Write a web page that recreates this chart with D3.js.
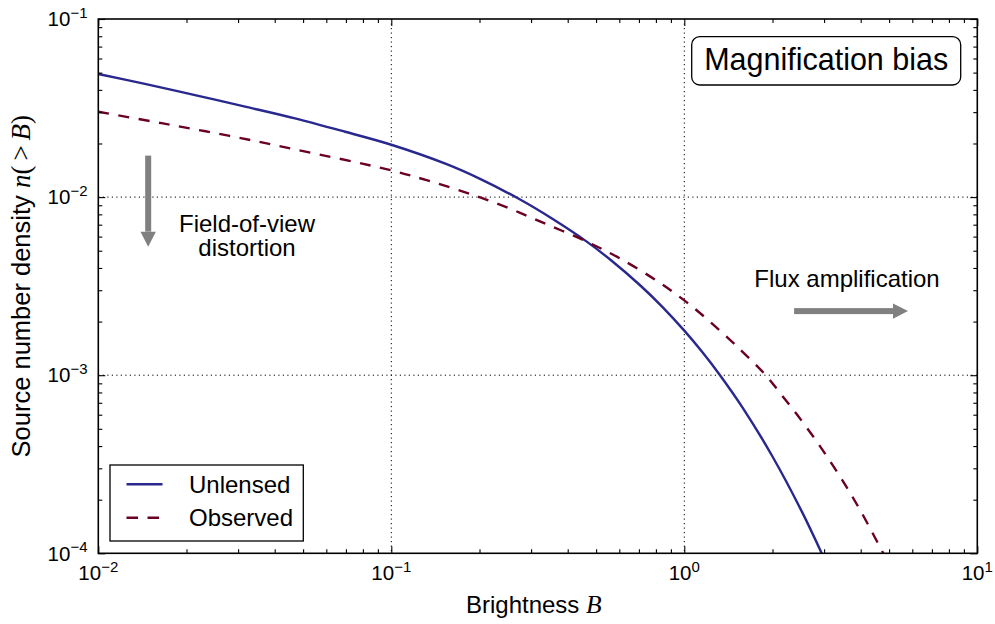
<!DOCTYPE html>
<html><head><meta charset="utf-8">
<script src="https://cdn.jsdelivr.net/npm/d3@7"></script>
<style>
body{margin:0;background:#fff}
svg{display:block}
text{font-family:"Liberation Sans",Arial,Helvetica,sans-serif;fill:#000}
</style>
</head><body>
<svg id="chart" width="995" height="624"></svg>
<script>
// ---- data ----
const unlensedB = [0.01, 0.01442, 0.02138, 0.0317, 0.0469, 0.0695, 0.1, 0.1545, 0.2, 0.2742, 0.3556, 0.4645, 0.5623, 0.7079, 0.8414, 1.0, 1.148, 1.324, 1.585, 1.995, 2.512, 2.944];
const unlensedN = [0.04909, 0.04325, 0.03741, 0.03221, 0.02767, 0.02328, 0.01968, 0.01531, 0.0127, 0.00972, 0.007534, 0.005623, 0.00442, 0.003189, 0.00242, 0.001779, 0.001358, 0.001, 0.0006534, 0.0003519, 0.000173, 0.0001];
const observedB = [0.01, 0.01644, 0.0278, 0.0469, 0.1, 0.1337, 0.1832, 0.2506, 0.3404, 0.4645, 0.604, 0.8054, 1.0, 1.2246, 1.549, 1.884, 2.123, 2.421, 2.864, 3.404, 3.981, 4.775];
const observedN = [0.03013, 0.026, 0.02213, 0.01854, 0.01413, 0.01236, 0.0105, 0.00869, 0.00702, 0.005623, 0.00452, 0.00339, 0.00263, 0.001995, 0.001396, 0.001012, 0.000794, 0.000603, 0.000413, 0.000269, 0.000175, 0.0001];
const seriesNames = ["Unlensed", "Observed"];
const xTickValues = [0.01, 0.1, 1, 10];
const xTickExponents = ["\u22122", "\u22121", "0", "1"];
const yTickValues = [1e-4, 1e-3, 1e-2, 1e-1];
const yTickExponents = ["\u22124", "\u22123", "\u22122", "\u22121"];
const xLabel = "Brightness ";
const yLabel = "Source number density ";
const titleBox = "Magnification bias";
const noteLeft = ["Field-of-view", "distortion"];
const noteRight = "Flux amplification";

// ---- layout ----
const L = 98.3, R = 977.3, T = 19, B = 553.3;
const svg = d3.select("#chart");
const x = d3.scaleLog().domain([0.01, 10]).range([L, R]);
const y = d3.scaleLog().domain([1e-4, 1e-1]).range([B, T]);
const colors = ["#28288e", "#6b0023"];
const dash = "11,9.5";

// clip
svg.append("defs").append("clipPath").attr("id", "clip")
  .append("rect").attr("x", L).attr("y", T).attr("width", R - L).attr("height", B - T);

// grid (dotted, at major ticks)
const grid = svg.append("g");
[0.1, 1].forEach(v => grid.append("line").attr("x1", x(v)).attr("x2", x(v)).attr("y1", T).attr("y2", B)
  .attr("stroke", "#000").attr("stroke-width", 1).attr("stroke-dasharray", "1.2,3.3"));
[1e-3, 1e-2].forEach(v => grid.append("line").attr("y1", y(v)).attr("y2", y(v)).attr("x1", L).attr("x2", R)
  .attr("stroke", "#000").attr("stroke-width", 1).attr("stroke-dasharray", "1.2,3.3"));

// curves
const line = d3.line().x(d => x(d[0])).y(d => y(d[1])).curve(d3.curveCatmullRom.alpha(0.5));
const curves = svg.append("g").attr("clip-path", "url(#clip)");
curves.append("path").datum(unlensedB.map((b, i) => [b, unlensedN[i]]))
  .attr("d", line).attr("fill", "none").attr("stroke", colors[0]).attr("stroke-width", 2.4);
curves.append("path").datum(observedB.map((b, i) => [b, observedN[i]]))
  .attr("d", line).attr("fill", "none").attr("stroke", colors[1]).attr("stroke-width", 2.4)
  .attr("stroke-dasharray", dash);

// minor tick values
const xMinor = [], yMinor = [];
[0.01, 0.1, 1].forEach(d => { for (let k = 2; k <= 9; k++) xMinor.push(d * k); });
[1e-4, 1e-3, 1e-2].forEach(d => { for (let k = 2; k <= 9; k++) yMinor.push(d * k); });

function styleAxis(g) {
  g.select(".domain").remove();
  g.selectAll("line").attr("stroke", "#000").attr("stroke-width", 1.1);
  g.selectAll("text").remove();
}
const axes = [
  [d3.axisBottom(x), `translate(0,${B})`, xTickValues, xMinor],
  [d3.axisTop(x), `translate(0,${T})`, xTickValues, xMinor],
  [d3.axisLeft(y), `translate(${L},0)`, yTickValues, yMinor],
  [d3.axisRight(y), `translate(${R},0)`, yTickValues, yMinor]
];
axes.forEach(([ax, tr, maj, min]) => {
  svg.append("g").attr("transform", tr)
    .call(ax.tickValues(maj).tickSize(-7).tickFormat(() => "")).call(styleAxis);
  svg.append("g").attr("transform", tr)
    .call(ax.tickValues(min).tickSize(-4).tickFormat(() => "")).call(styleAxis);
});

// frame
svg.append("rect").attr("x", L).attr("y", T).attr("width", R - L).attr("height", B - T)
  .attr("fill", "none").attr("stroke", "#000").attr("stroke-width", 1.6);

// tick labels
xTickValues.forEach((v, i) => {
  const t = svg.append("text").attr("x", x(v)).attr("y", 580).attr("text-anchor", "middle")
    .attr("font-size", 20.5);
  t.append("tspan").text("10");
  t.append("tspan").attr("font-size", 15).attr("dy", -8).text(xTickExponents[i]);
});
yTickValues.forEach((v, i) => {
  const t = svg.append("text").attr("x", 87.5).attr("y", y(v) + 7.2).attr("text-anchor", "end")
    .attr("font-size", 20.5);
  t.append("tspan").text("10");
  t.append("tspan").attr("font-size", 15).attr("dy", -8.5).text(yTickExponents[i]);
});

// axis labels
const serif = "'Liberation Serif','DejaVu Serif',serif";
const xl = svg.append("text").attr("x", (L + R) / 2 - 4).attr("y", 613).attr("text-anchor", "middle").attr("font-size", 24);
xl.append("tspan").text(xLabel);
xl.append("tspan").attr("font-family", serif).attr("font-style", "italic").attr("font-size", 25.5).text("B");

const yl = svg.append("text").attr("transform", `translate(30,${(T + B) / 2}) rotate(-90)`)
  .attr("text-anchor", "middle").attr("font-size", 25.5);
yl.append("tspan").text(yLabel);
yl.append("tspan").attr("font-family", serif).attr("font-style", "italic").attr("font-size", 27).text("n");
yl.append("tspan").attr("font-family", serif).attr("font-size", 27).text("(");
yl.append("tspan").attr("font-family", serif).attr("font-size", 27).attr("dx", 5).text(">");
yl.append("tspan").attr("font-family", serif).attr("font-style", "italic").attr("font-size", 27).attr("dx", 5).text("B");
yl.append("tspan").attr("font-family", serif).attr("font-size", 27).text(")");

// title box
svg.append("rect").attr("x", 691.7).attr("y", 36.7).attr("width", 269).attr("height", 48.3)
  .attr("rx", 8).attr("ry", 8).attr("fill", "#fff").attr("stroke", "#000").attr("stroke-width", 1.3);
svg.append("text").attr("x", 826.2).attr("y", 69.5).attr("text-anchor", "middle").attr("font-size", 30.5).text(titleBox);

// annotations
const grey = "#808080";
// vertical arrow (field-of-view distortion)
const ax0 = x(0.0148), ay0 = y(0.0171), ay1 = y(0.00527);
svg.append("rect").attr("x", ax0 - 3).attr("y", ay0).attr("width", 6).attr("height", ay1 - ay0 - 15).attr("fill", grey);
svg.append("path").attr("d", `M${ax0 - 7.7},${ay1 - 15}L${ax0 + 7.7},${ay1 - 15}L${ax0},${ay1}Z`).attr("fill", grey);
// horizontal arrow (flux amplification)
const bx0 = x(2.37), bx1 = x(5.8), by = y(0.00229);
svg.append("rect").attr("x", bx0).attr("y", by - 3).attr("width", bx1 - bx0 - 15).attr("height", 6).attr("fill", grey);
svg.append("path").attr("d", `M${bx1 - 15},${by - 7.7}L${bx1 - 15},${by + 7.7}L${bx1},${by}Z`).attr("fill", grey);

svg.append("text").attr("x", 247).attr("y", 231.5).attr("text-anchor", "middle").attr("font-size", 24).text(noteLeft[0]);
svg.append("text").attr("x", 247).attr("y", 256).attr("text-anchor", "middle").attr("font-size", 24).text(noteLeft[1]);
svg.append("text").attr("x", 847).attr("y", 287).attr("text-anchor", "middle").attr("font-size", 24).text(noteRight);

// legend
const lg = svg.append("g");
lg.append("rect").attr("x", 110).attr("y", 465).attr("width", 193.3).attr("height", 76)
  .attr("fill", "#fff").attr("stroke", "#000").attr("stroke-width", 1.3);
const legY = [484.3, 517.7];
seriesNames.forEach((name, i) => {
  lg.append("line").attr("x1", 126.5).attr("x2", 162.5).attr("y1", legY[i]).attr("y2", legY[i])
    .attr("stroke", colors[i]).attr("stroke-width", 2.4).attr("stroke-dasharray", i === 1 ? "11.5,9.5" : null);
  lg.append("text").attr("x", 189).attr("y", legY[i] + 8.5).attr("font-size", 24).text(name);
});
</script>
</body></html>
